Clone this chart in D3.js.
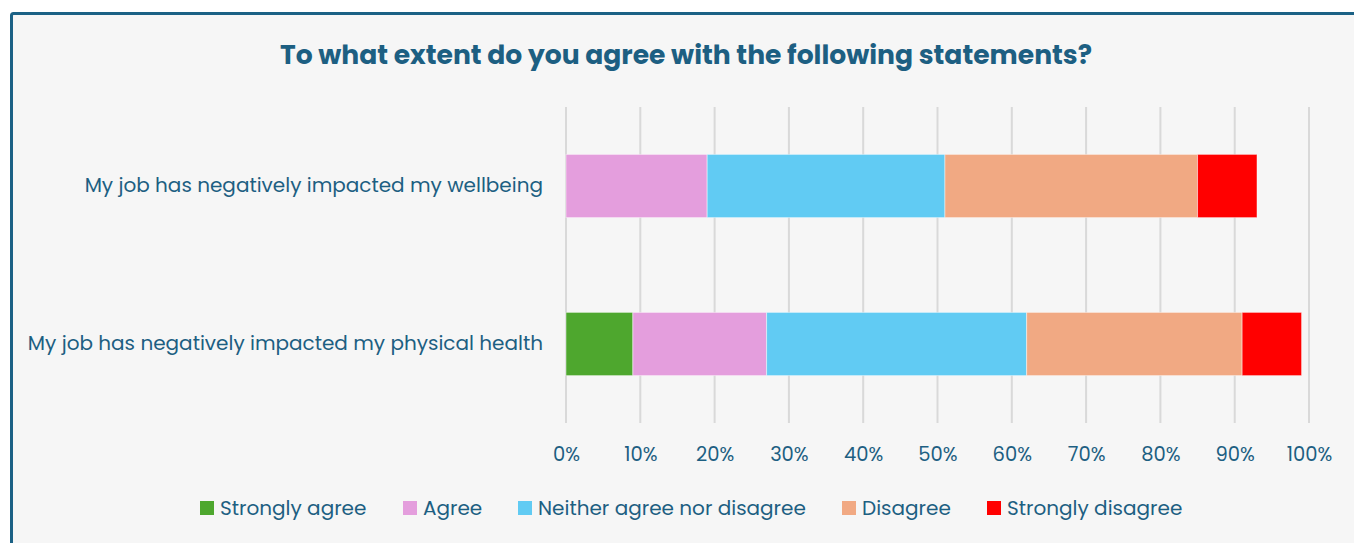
<!DOCTYPE html>
<html>
<head>
<meta charset="utf-8">
<script src="https://cdn.jsdelivr.net/npm/d3@7"></script>
<style>
  html, body { margin: 0; padding: 0; background: #ffffff; }
  svg { display: block; }
  text { font-family: "Poppins", "Open Sans", "Noto Sans", sans-serif; }
</style>
</head>
<body>
<div id="chart"></div>
<script>
// Survey statements (y categories)
const statements = [
  "My job has negatively impacted my wellbeing",
  "My job has negatively impacted my physical health"
];
// Response options, in stacking order
const responses = ["Strongly agree", "Agree", "Neither agree nor disagree", "Disagree", "Strongly disagree"];
// Percentage share of each response, one value per statement
const stronglyAgree = [0, 9];
const agree = [19, 18];
const neither = [32, 35];
const disagree = [34, 29];
const stronglyDisagree = [8, 8];
const tickValues = [0, 10, 20, 30, 40, 50, 60, 70, 80, 90, 100];
const colors = ["#4ea72e", "#e49edd", "#61cbf3", "#f1a983", "#ff0000"];

const W = 1354, H = 543;
const textColor = "#1d5f82";
const fontStack = "\"Poppins\", \"Open Sans\", \"Noto Sans\", sans-serif";

const svg = d3.select("#chart").append("svg")
  .attr("width", W).attr("height", H);

// Framed panel
svg.append("rect")
  .attr("x", 11.5).attr("y", 13.5)
  .attr("width", W + 20).attr("height", H + 20)
  .attr("rx", 2)
  .attr("fill", "#f6f6f6")
  .attr("stroke", "#1b6185")
  .attr("stroke-width", 3);

svg.append("text")
  .attr("x", 686).attr("y", 64)
  .attr("text-anchor", "middle")
  .attr("font-size", 26.6)
  .attr("font-weight", 700)
  .attr("fill", textColor)
  .text("To what extent do you agree with the following statements?");

const x = d3.scaleLinear().domain([0, 100]).range([566, 1309]);
const y = d3.scaleBand().domain(statements).range([107, 423])
  .paddingInner(0.6).paddingOuter(0.3);

// Vertical gridlines
svg.append("g").selectAll("line")
  .data(tickValues).join("line")
  .attr("x1", d => x(d)).attr("x2", d => x(d))
  .attr("y1", 107).attr("y2", 423)
  .attr("stroke", "#d9d9d9")
  .attr("stroke-width", 2);

// Bottom axis labels
const xAxis = d3.axisBottom(x).tickValues(tickValues)
  .tickFormat(d => d + "%").tickSize(0).tickPadding(0);
const gx = svg.append("g").attr("transform", "translate(0,447)").call(xAxis);
gx.select(".domain").remove();
gx.selectAll("text")
  .attr("font-size", 19.5)
  .attr("fill", textColor)
  .attr("font-family", fontStack);

// Left category labels
const yAxis = d3.axisLeft(y).tickSize(0).tickPadding(23);
const gy = svg.append("g").attr("transform", "translate(566,0)").call(yAxis);
gy.select(".domain").remove();
gy.selectAll("text")
  .attr("font-size", 20)
  .attr("fill", textColor)
  .attr("font-family", fontStack);

// Stacked bars
const rows = statements.map((s, i) => ({
  statement: s,
  "Strongly agree": stronglyAgree[i],
  "Agree": agree[i],
  "Neither agree nor disagree": neither[i],
  "Disagree": disagree[i],
  "Strongly disagree": stronglyDisagree[i]
}));
const stacked = d3.stack().keys(responses)(rows);
const color = d3.scaleOrdinal().domain(responses).range(colors);

svg.append("g").selectAll("g")
  .data(stacked).join("g")
  .attr("fill", d => color(d.key))
  .selectAll("rect")
  .data(d => d.filter(p => p[1] - p[0] > 0))
  .join("rect")
  .attr("x", d => x(d[0]))
  .attr("width", d => x(d[1]) - x(d[0]))
  .attr("y", d => y(d.data.statement))
  .attr("height", y.bandwidth())
  .attr("stroke", "rgba(255,255,255,0.45)")
  .attr("stroke-width", 1);

// Legend
const legendX = [200, 403, 518, 842, 987];
const legend = svg.append("g").selectAll("g")
  .data(responses).join("g")
  .attr("transform", (d, i) => `translate(${legendX[i]},501)`);
legend.append("rect")
  .attr("width", 14).attr("height", 14)
  .attr("fill", d => color(d));
legend.append("text")
  .attr("x", 20).attr("y", 14)
  .attr("font-size", 20)
  .attr("fill", textColor)
  .text(d => d);
</script>
</body>
</html>
